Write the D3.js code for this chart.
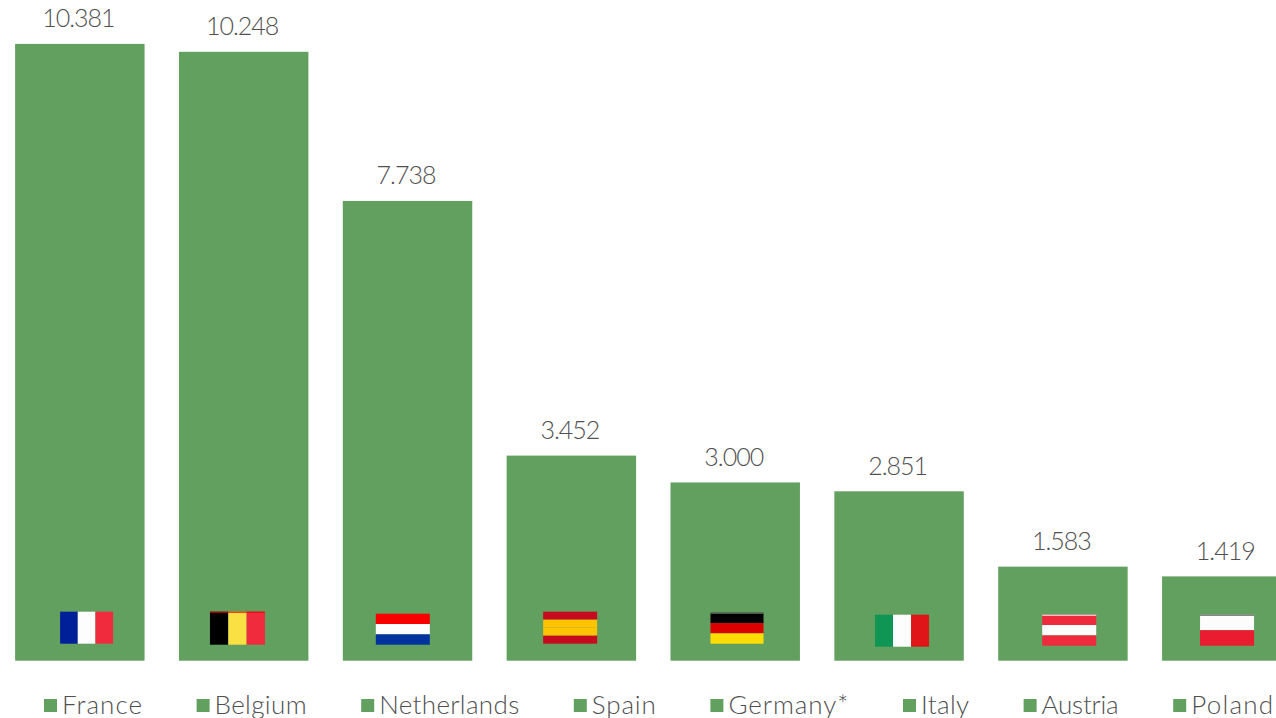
<!DOCTYPE html>
<html>
<head>
<meta charset="utf-8">
<script src="https://cdn.jsdelivr.net/npm/d3@7"></script>
<style>
  html, body { margin: 0; padding: 0; background: #fff; overflow: hidden; }
  text { font-family: Lato, sans-serif; font-weight: 300; fill: #4f4f4f; }
</style>
</head>
<body>
<svg id="chart" width="1276" height="718"></svg>
<script>
// values
const countries = ["France", "Belgium", "Netherlands", "Spain", "Germany*", "Italy", "Austria", "Poland"];
const volumes = [10381, 10248, 7738, 3452, 3000, 2851, 1583, 1419];
const valueLabels = ["10.381", "10.248", "7.738", "3.452", "3.000", "2.851", "1.583", "1.419"];

// flag stripes, in drawing order
const flagColors = [
  ["#00209a", "#fdfdfd", "#ef2b3d"],
  ["#000000", "#fae042", "#ef2b3d"],
  ["#f90000", "#fdfdfd", "#0033a0"],
  ["#c60b1e", "#ffc400", "#ffc400", "#c60b1e"],
  ["#000000", "#dd0000", "#ffdd00"],
  ["#0f9654", "#fdfdfd", "#e01518"],
  ["#ee2b3c", "#fdfdfd", "#ee2b3c"],
  ["#fcfcfc", "#e91c30"]
];
const flagVertical = [true, true, false, false, false, true, false, false];
// thin line along the top of some flags in the original images
const flagEdge = [null, "#f00000", null, null, "#777777", null, "#fdfdfd", "#555555"];

const barColor = "#62a060";

let svg = d3.select("#chart");

// band scale runs past the right edge, the last bar is cut off in the original
let x = d3.scaleBand()
    .domain(countries)
    .range([-2.1, 1308.7])
    .paddingInner(0.21)
    .paddingOuter(0.105);

let y = d3.scaleLinear()
    .domain([0, 10381])
    .range([660.7, 43.9]);

// bars
svg.selectAll(".bar")
    .data(countries)
    .enter().append("rect")
    .attr("class", "bar")
    .attr("x", d => x(d))
    .attr("width", x.bandwidth())
    .attr("y", (d, i) => y(volumes[i]))
    .attr("height", (d, i) => y(0) - y(volumes[i]))
    .attr("fill", barColor);

// value labels
svg.selectAll(".value")
    .data(valueLabels)
    .enter().append("text")
    .attr("class", "value")
    .attr("x", (d, i) => x(countries[i]) + x.bandwidth() / 2 - 1.5)
    .attr("y", (d, i) => y(volumes[i]) - 16.5)
    .attr("text-anchor", "middle")
    .style("font-size", "25px")
    .style("letter-spacing", "-1px")
    .text(d => d);

// flags sit near the foot of each bar, each a little off centre
const flagOffsetX = [45, 31, 33, 36.5, 40, 40.7, 44, 38];
const flagOffsetY = [49, 49, 47, 49, 48, 46, 46, 46];
const flagWidth = [53, 55, 54, 54, 53, 54, 54, 54];
const flagHeight = [32, 33, 31, 32, 31, 32, 31, 31];

countries.forEach((c, i) => {
  let g = svg.append("g")
      .attr("class", "flag")
      .attr("transform", "translate(" + (x(c) + flagOffsetX[i]) + "," + (y(0) - flagOffsetY[i]) + ")");
  let stripes = flagColors[i];
  let pos = d3.scaleBand()
      .domain(d3.range(stripes.length))
      .range([0, flagVertical[i] ? flagWidth[i] : flagHeight[i]]);
  g.selectAll("rect")
      .data(stripes)
      .enter().append("rect")
      .attr("x", (d, j) => flagVertical[i] ? pos(j) : 0)
      .attr("y", (d, j) => flagVertical[i] ? 0 : pos(j))
      .attr("width", flagVertical[i] ? pos.bandwidth() : flagWidth[i])
      .attr("height", flagVertical[i] ? flagHeight[i] : pos.bandwidth())
      .attr("fill", d => d);
  if (flagEdge[i]) {
    g.append("rect")
        .attr("width", flagWidth[i])
        .attr("height", 1)
        .attr("fill", flagEdge[i]);
  }
});

// legend, items flow left to right with a fixed gap
// label widths are forced since the original font is not available
const legendLabelWidth = [80, 92, 140, 64, 120, 48, 77, 82];
let legendX = 44;
const legendGap = 54.6;
countries.forEach((c, i) => {
  svg.append("rect")
      .attr("class", "legend-key")
      .attr("x", legendX)
      .attr("y", 699)
      .attr("width", 13)
      .attr("height", 13)
      .attr("fill", barColor);
  svg.append("text")
      .attr("class", "legend-label")
      .attr("x", legendX + 18)
      .attr("y", 714)
      .attr("textLength", legendLabelWidth[i])
      .attr("lengthAdjust", "spacing")
      .style("font-size", "26px")
      .text(c);
  legendX += 18 + legendLabelWidth[i] + legendGap;
});
</script>
</body>
</html>
